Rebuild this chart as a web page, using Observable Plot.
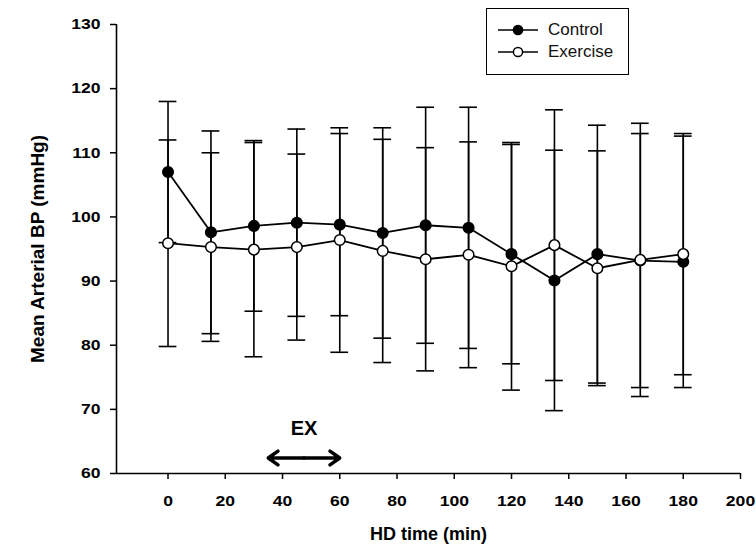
<!DOCTYPE html>
<html>
<head>
<meta charset="utf-8">
<script src="https://cdn.jsdelivr.net/npm/d3@7"></script>
<script src="https://cdn.jsdelivr.net/npm/@observablehq/plot@0.6"></script>
<style>
  body { margin: 0; background: #fff; }
  #wrap { position: relative; width: 756px; height: 552px; }
  #legend {
    position: absolute; left: 486px; top: 8px; width: 143px; height: 67px;
    border: 1.5px solid #000; box-sizing: border-box; background: #fff;
    font-family: "Liberation Sans", Arial, sans-serif; font-size: 17px; color: #111;
  }
  .row { position: absolute; left: 11px; height: 20px; display: flex; align-items: center; white-space: nowrap; }
  .row svg { margin-right: 10px; }
</style>
</head>
<body>
<div id="wrap"><div id="chart"></div><div id="legend"></div></div>
<script>
// ---- data ----
const times = [0, 15, 30, 45, 60, 75, 90, 105, 120, 135, 150, 165, 180];
const seriesNames = ["Control", "Exercise"];
const controlMean  = [107.0, 97.6, 98.6, 99.1, 98.8, 97.5, 98.7, 98.3, 94.2, 90.1, 94.2, 93.2, 93.0];
const controlSD    = [11.0, 15.8, 13.3, 14.6, 14.2, 16.4, 18.4, 18.8, 17.1, 20.3, 20.1, 19.8, 19.6];
const exerciseMean = [95.9, 95.3, 94.9, 95.3, 96.4, 94.7, 93.4, 94.1, 92.3, 95.6, 92.0, 93.3, 94.2];
const exerciseSD   = [16.1, 14.7, 16.7, 14.5, 17.5, 17.4, 17.4, 17.6, 19.3, 21.1, 18.3, 21.3, 18.8];
const xTicks = [0, 20, 40, 60, 80, 100, 120, 140, 160, 180, 200];
const yTicks = [60, 70, 80, 90, 100, 110, 120, 130];
const xTitle = "HD time (min)";
const yTitle = "Mean Arterial BP (mmHg)";
const exLabel = "EX";
const exWindow = [35, 60];

// ---- build table ----
const means = [controlMean, exerciseMean];
const sds = [controlSD, exerciseSD];
const rows = [];
seriesNames.forEach((name, s) => times.forEach((t, i) =>
  rows.push({series: name, t, mean: means[s][i], sd: sds[s][i]})));
const bySeries = name => rows.filter(d => d.series === name);

const xDomain = [-18, 200];
const yDomain = [yTicks[0], yTicks[yTicks.length - 1]];
const capHalf = 3.1;
const exMid = (exWindow[0] + exWindow[1]) / 2;

function errorMarks(data) {
  return [
    Plot.ruleX(data, {x: "t", y1: d => d.mean - d.sd, y2: d => d.mean + d.sd, stroke: "#000", strokeWidth: 1.6}),
    Plot.ruleY(data, {y: d => d.mean + d.sd, x1: d => d.t - capHalf, x2: d => d.t + capHalf, stroke: "#000", strokeWidth: 1.6}),
    Plot.ruleY(data, {y: d => d.mean - d.sd, x1: d => d.t - capHalf, x2: d => d.t + capHalf, stroke: "#000", strokeWidth: 1.6})
  ];
}

const chart = Plot.plot({
  width: 756, height: 552,
  marginLeft: 116, marginRight: 16, marginTop: 24, marginBottom: 79,
  x: {domain: xDomain},
  y: {domain: yDomain},
  style: {fontFamily: "'Liberation Sans', Arial, sans-serif", fontSize: "15px", fontWeight: "bold", color: "#000", background: "#fff"},
  marks: [
    Plot.ruleX([xDomain[0]], {stroke: "#000", strokeWidth: 1.6}),
    Plot.ruleY([yDomain[0]], {stroke: "#000", strokeWidth: 1.6}),
    Plot.axisY(yTicks, {tickSize: 6, tickPadding: 10, strokeWidth: 1.5, label: null, tickFormat: d => String(d)}),
    Plot.axisX(xTicks, {tickSize: 6, tickPadding: 16, strokeWidth: 1.5, label: null, tickFormat: d => String(d)}),
    Plot.text([xTitle], {text: d => d, frameAnchor: "bottom", textAnchor: "middle", dy: 66, fontSize: 18, fontWeight: "bold", ariaLabel: "x-title"}),
    Plot.text([yTitle], {text: d => d, frameAnchor: "left", textAnchor: "middle", dx: -78.5, rotate: -90, fontSize: 19, fontWeight: "bold", ariaLabel: "y-title"}),
    ...errorMarks(bySeries("Control")),
    ...errorMarks(bySeries("Exercise")),
    Plot.line(bySeries("Control"), {x: "t", y: "mean", stroke: "#000", strokeWidth: 1.8}),
    Plot.line(bySeries("Exercise"), {x: "t", y: "mean", stroke: "#000", strokeWidth: 1.8}),
    Plot.dot(bySeries("Control"), {x: "t", y: "mean", r: 5.3, fill: "#000", stroke: "#000", strokeWidth: 1.5}),
    Plot.dot(bySeries("Exercise"), {x: "t", y: "mean", r: 5.3, fill: "#fff", stroke: "#000", strokeWidth: 1.5}),
    Plot.arrow([exWindow[0], exWindow[1]], {x1: () => exMid, x2: d => d, y1: () => yDomain[0], y2: () => yDomain[0], dy: -15.5,
      stroke: "#000", strokeWidth: 3.5, headLength: 10, headAngle: 70}),
    Plot.text([exLabel], {text: d => d, x: () => exMid, frameAnchor: "bottom", textAnchor: "middle", dy: -39, fontSize: 20, fontWeight: "bold"})
  ]
});
document.getElementById("chart").appendChild(chart);

// widen the bold labels horizontally as in the reference (pivot at each text's anchor)
function stretch(selector, s) {
  chart.querySelectorAll(selector).forEach(t => {
    const b = t.getBBox();
    const anchor = getComputedStyle(t).textAnchor;
    const px = anchor === "end" ? b.x + b.width : anchor === "middle" ? b.x + b.width / 2 : b.x;
    const tr = t.getAttribute("transform") || "";
    t.setAttribute("transform", `${tr} translate(${px},0) scale(${s},1) translate(${-px},0)`);
  });
}
stretch('[aria-label$="tick label"] text', 1.17);
stretch('[aria-label="x-title"] text', 1.15);
stretch('[aria-label="y-title"] text', 1.18);

// legend
const legend = document.getElementById("legend");
const fills = ["#000", "#fff"];
seriesNames.forEach((name, i) => {
  const row = document.createElement("div");
  row.className = "row";
  row.style.top = (11 + i * 22) + "px";
  row.innerHTML = `<svg width="40" height="14"><line x1="0" y1="7" x2="40" y2="7" stroke="#000" stroke-width="1.6"/><circle cx="20" cy="7" r="4.6" fill="${fills[i]}" stroke="#000" stroke-width="1.5"/></svg><span>${name}</span>`;
  legend.appendChild(row);
});
</script>
</body>
</html>
